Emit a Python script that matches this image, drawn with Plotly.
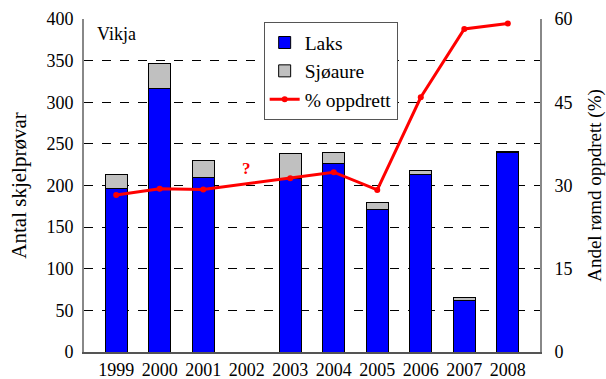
import plotly.graph_objects as go

# Skjelprøvar frå Vikja, fordelt på art, og delen rømd oppdrettsfisk
years = ["1999", "2000", "2001", "2002", "2003", "2004", "2005", "2006", "2007", "2008"]
laks = [197, 316, 210, 0, 209, 226, 171, 213, 62, 240]
sjoaure = [16, 30, 20, 0, 29, 14, 8, 5, 4, 1]
oppdrett = [28.3, 29.4, 29.3, None, 31.3, 32.4, 29.2, 45.9, 58.2, 59.2]

serif = "Liberation Serif"

fig = go.Figure()
fig.add_trace(go.Bar(
    x=years, y=laks, name="Laks", width=0.5,
    marker=dict(color="#0000ff", line=dict(color="black", width=1)),
))
fig.add_trace(go.Bar(
    x=years, y=sjoaure, name="Sjøaure", width=0.5,
    marker=dict(color="#c0c0c0", line=dict(color="black", width=1)),
))
fig.add_trace(go.Scatter(
    x=years, y=oppdrett, name="% oppdrett", yaxis="y2",
    mode="lines+markers", connectgaps=True,
    line=dict(color="#ff0000", width=3),
    marker=dict(color="#ff0000", size=6),
))

fig.update_layout(
    width=606, height=379,
    margin=dict(l=84, r=66, t=19, b=27),
    barmode="stack",
    plot_bgcolor="white", paper_bgcolor="white",
    font=dict(family=serif, size=18, color="black"),
    showlegend=True,
    legend=dict(
        x=0.394, y=0.99, xanchor="left", yanchor="top",
        bgcolor="white", bordercolor="#555555", borderwidth=1,
        font=dict(family=serif, size=19.5), tracegroupgap=0,
        traceorder="normal", itemwidth=30,
    ),
    xaxis=dict(
        type="category", range=[-0.74, 9.74], automargin=False,
        showline=True, linecolor="#555555", linewidth=2,
        showgrid=False, ticks="", tickfont=dict(family=serif, size=18),
    ),
    yaxis=dict(
        range=[0, 400], tickvals=[0, 50, 100, 150, 200, 250, 300, 350, 400],
        automargin=False,
        showgrid=True, gridcolor="black", griddash="dash", gridwidth=1,
        showline=True, linecolor="#888888", linewidth=2,
        zeroline=False, ticks="", ticklabelstandoff=5,
        tickfont=dict(family=serif, size=18),
        title=dict(text="Antal skjelprøvar", font=dict(family=serif, size=21), standoff=14),
    ),
    yaxis2=dict(
        range=[0, 60], tickvals=[0, 15, 30, 45, 60],
        overlaying="y", side="right", automargin=False,
        showgrid=False, showline=True, linecolor="#888888", linewidth=2,
        zeroline=False, ticks="", ticklabelstandoff=9,
        tickfont=dict(family=serif, size=18),
        title=dict(text="Andel rømd oppdrett (%)", font=dict(family=serif, size=19), standoff=22),
    ),
    annotations=[
        dict(text="Vikja", xref="paper", yref="paper", x=0.025, y=0.955,
             xanchor="left", yanchor="middle", showarrow=False,
             font=dict(family=serif, size=18)),
        dict(text="<b>?</b>", xref="x", yref="paper", x=3, y=0.552,
             xanchor="center", yanchor="middle",
             showarrow=False, font=dict(family=serif, size=17, color="#ff0000")),
    ],
)

fig.write_html("out.html")
